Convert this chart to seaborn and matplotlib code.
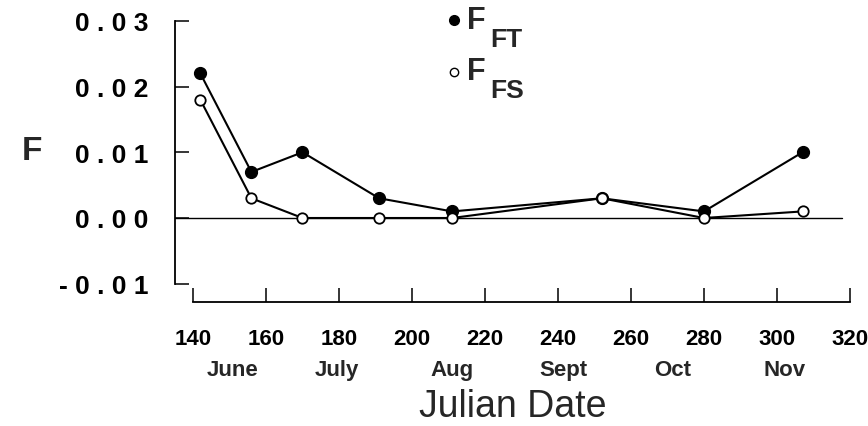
import matplotlib
matplotlib.use("Agg")
import matplotlib.pyplot as plt
import matplotlib.transforms as mtransforms
import seaborn as sns
import pandas as pd

# ---- data ----
julian_day = [142, 156, 170, 191, 211, 252, 280, 307]
f_ft = [0.022, 0.007, 0.010, 0.003, 0.001, 0.003, 0.001, 0.010]
f_fs = [0.018, 0.003, 0.000, 0.000, 0.000, 0.003, 0.000, 0.001]
x_ticks = [140, 160, 180, 200, 220, 240, 260, 280, 300, 320]
y_ticks = [-0.01, 0.00, 0.01, 0.02, 0.03]
y_tick_labels = ["- 0 . 0 1", "0 . 0 0", "0 . 0 1", "0 . 0 2", "0 . 0 3"]
month_names = ["June", "July", "Aug", "Sept", "Oct", "Nov"]
month_pos = [150.8, 179.5, 211.0, 241.5, 271.3, 302.2]

df = pd.DataFrame({"day": julian_day, "FT": f_ft, "FS": f_fs})

sns.set_theme(style="ticks")
plt.rcParams["font.family"] = ["Liberation Sans", "DejaVu Sans"]

W, H = 868, 427
fig = plt.figure(figsize=(W / 100, H / 100), dpi=100)
left, right, bottom, top = 175, 850, 303, 19
ax_h = bottom - top
ax = fig.add_axes([left / W, 1 - bottom / H, (right - left) / W, ax_h / H])

px_per_day = 3.65
px_per_unit = 6575.0
ax.set_xlim(140 - 18 / px_per_day, 140 + (right - left - 18) / px_per_day)
ax.set_ylim(-(bottom - 219) / px_per_unit, (219 - top) / px_per_unit)

ax.axhline(0, color="black", lw=1.0, xmin=0, xmax=0.988, zorder=1)

sns.lineplot(data=df, x="day", y="FT", ax=ax, color="black", lw=1.5,
             marker="o", markersize=8.5, markerfacecolor="black",
             markeredgecolor="black", markeredgewidth=1.0, zorder=3, clip_on=False)
sns.lineplot(data=df, x="day", y="FS", ax=ax, color="black", lw=1.5,
             marker="o", markersize=7.5, markerfacecolor="white",
             markeredgecolor="black", markeredgewidth=1.3, zorder=4, clip_on=False)

for s in ["top", "right"]:
    ax.spines[s].set_visible(False)
ax.spines["left"].set_bounds(-0.01, 0.03)
ax.spines["bottom"].set_bounds(140, 320)
for s in ["left", "bottom"]:
    ax.spines[s].set_linewidth(1.3)
    ax.spines[s].set_color("black")

ax.set_xticks(x_ticks)
ax.set_xticklabels([str(t) for t in x_ticks], fontsize=16, fontweight="bold")
ax.set_yticks(y_ticks)
ax.set_yticklabels(y_tick_labels, fontsize=19, fontweight="bold")
ax.tick_params(axis="both", direction="in", length=10, width=1.1, colors="black")
ax.tick_params(axis="x", pad=19)
ax.tick_params(axis="y", pad=19)

ax.set_xlabel("Julian Date", fontsize=27)
ax.xaxis.label.set_va("baseline")
ax.xaxis.set_label_coords(0.5, -(417 - bottom) / ax_h)
ax.set_ylabel("")
ax.grid(False)

fig.text(22 / W, 1 - 152 / H, "F", fontsize=24, fontweight="bold",
         ha="left", va="center")

# month labels
trans = mtransforms.blended_transform_factory(ax.transData, fig.transFigure)
for name, pos in zip(month_names, month_pos):
    ax.text(pos, 1 - 371 / H, name, transform=trans, fontsize=16,
            fontweight="bold", ha="center", va="center")

# legend
ax.plot([454 / W], [1 - 21 / H], transform=fig.transFigure, marker="o",
        markersize=7, color="black", clip_on=False)
ax.plot([454 / W], [1 - 73 / H], transform=fig.transFigure, marker="o",
        markersize=6, markerfacecolor="white", markeredgecolor="black",
        markeredgewidth=1.0, clip_on=False)
fig.text(467 / W, 1 - 21 / H, "F", fontsize=22, fontweight="bold", va="center")
fig.text(490 / W, 1 - 40 / H, "FT", fontsize=19, fontweight="bold", va="center")
fig.text(467 / W, 1 - 72 / H, "F", fontsize=22, fontweight="bold", va="center")
fig.text(490 / W, 1 - 91 / H, "FS", fontsize=19, fontweight="bold", va="center")

fig.savefig("out.png", dpi=100, facecolor="white")
